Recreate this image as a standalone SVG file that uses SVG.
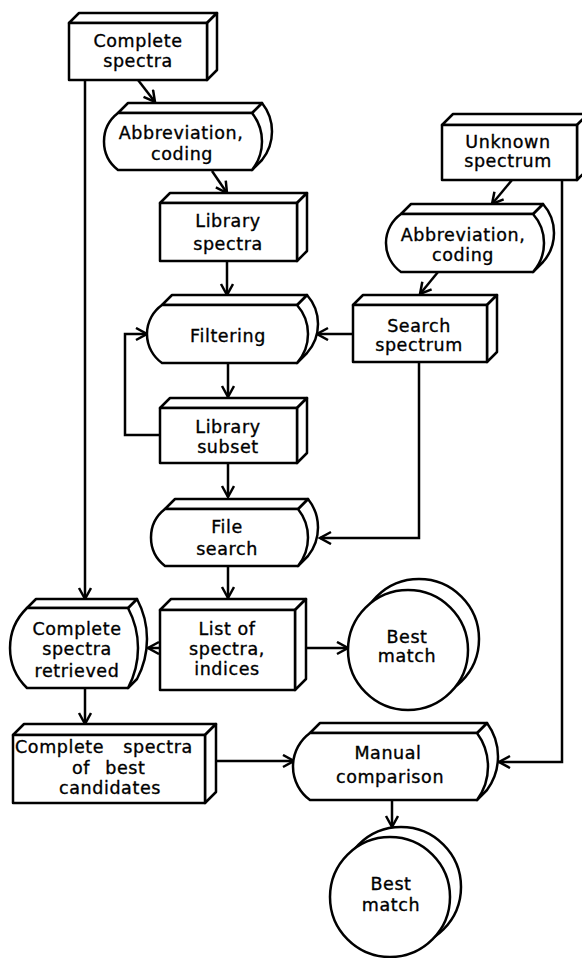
<svg xmlns="http://www.w3.org/2000/svg" width="582" height="958" viewBox="0 0 582 958">
<style>
.s{fill:#fff;stroke:#000;stroke-width:2.5;stroke-linejoin:round}
.c{fill:none;stroke:#000;stroke-width:2.5;marker-end:url(#ah)}
text{font-family:"DejaVu Sans","Liberation Sans",sans-serif;font-size:17.5px;letter-spacing:0.6px;fill:#000;stroke:#000;stroke-width:0.35px;text-anchor:middle}
</style>
<defs>
<marker id="ah" markerWidth="16" markerHeight="16" refX="12" refY="7" orient="auto" markerUnits="userSpaceOnUse">
<path d="M1,1 L12,7 L1,13" fill="none" stroke="#000" stroke-width="2.5"/>
</marker>
</defs>
<rect width="582" height="958" fill="#fff"/>

<g id="connectors">
<path class="c" d="M138,80 L155,102"/>
<path class="c" d="M212,171 L227,193"/>
<path class="c" d="M227,261 V295"/>
<path class="c" d="M228,363 V397"/>
<path class="c" d="M160,435 H125 V334 H147"/>
<path class="c" d="M353,334 H317"/>
<path class="c" d="M228,463 V497"/>
<path class="c" d="M419,362 V538 H320"/>
<path class="c" d="M228,566 V598"/>
<path class="c" d="M85,80 V599"/>
<path class="c" d="M160,648 H148"/>
<path class="c" d="M306,648 H348"/>
<path class="c" d="M85,688 V724"/>
<path class="c" d="M216,761 H294"/>
<path class="c" d="M512,180 L492,204"/>
<path class="c" d="M438,272 L420,294"/>
<path class="c" d="M562,180 V762 H499"/>
<path class="c" d="M392,800 V827"/>
</g>

<g id="complete-spectra">
<path class="s" d="M69,23 L79,13 H217 L207,23 Z"/>
<path class="s" d="M207,23 L217,13 V70 L207,80 Z"/>
<rect class="s" x="69" y="23" width="138" height="57"/>
<text x="138" y="47">Complete</text>
<text x="138" y="67">spectra</text>
</g>

<g id="abbrev-left">
<path class="s" d="M252,113 L262,103 A45.6,45.6 0 0 1 262,160 L252,170 Z"/>
<path class="s" d="M118,113 L128,103 H262 L252,113 Z"/>
<path class="s" d="M118,113 H252 A45.6,45.6 0 0 1 252,170 H118 A36,36 0 0 1 118,113 Z"/>
<text x="181" y="139">Abbreviation,</text>
<text x="182" y="160">coding</text>
</g>

<g id="library-spectra">
<path class="s" d="M160,203 L170,193 H307 L297,203 Z"/>
<path class="s" d="M297,203 L307,193 V251 L297,261 Z"/>
<rect class="s" x="160" y="203" width="137" height="58"/>
<text x="228" y="227">Library</text>
<text x="228" y="250">spectra</text>
</g>

<g id="filtering">
<path class="s" d="M297,305 L307,295 A43.7,43.7 0 0 1 307,353 L297,363 Z"/>
<path class="s" d="M162,305 L172,295 H307 L297,305 Z"/>
<path class="s" d="M162,305 H297 A43.7,43.7 0 0 1 297,363 H162 A35.5,35.5 0 0 1 162,305 Z"/>
<text x="228" y="342">Filtering</text>
</g>

<g id="library-subset">
<path class="s" d="M160,408 L170,398 H307 L297,408 Z"/>
<path class="s" d="M297,408 L307,398 V453 L297,463 Z"/>
<rect class="s" x="160" y="408" width="137" height="55"/>
<text x="228" y="433">Library</text>
<text x="228" y="453">subset</text>
</g>

<g id="file-search">
<path class="s" d="M298,509 L308,499 A45.6,45.6 0 0 1 308,556 L298,566 Z"/>
<path class="s" d="M165,509 L175,499 H308 L298,509 Z"/>
<path class="s" d="M165,509 H298 A45.6,45.6 0 0 1 298,566 H165 A36,36 0 0 1 165,509 Z"/>
<text x="227" y="533">File</text>
<text x="227" y="555">search</text>
</g>

<g id="unknown-spectrum">
<path class="s" d="M442,125 L453,114 H588 L577,125 Z"/>
<path class="s" d="M577,125 L588,114 V169 L577,180 Z"/>
<rect class="s" x="442" y="125" width="135" height="55"/>
<text x="508" y="148">Unknown</text>
<text x="508" y="167">spectrum</text>
</g>

<g id="abbrev-right">
<path class="s" d="M533,214 L543,204 A43.7,43.7 0 0 1 543,262 L533,272 Z"/>
<path class="s" d="M401,214 L411,204 H543 L533,214 Z"/>
<path class="s" d="M401,214 H533 A43.7,43.7 0 0 1 533,272 H401 A35.5,35.5 0 0 1 401,214 Z"/>
<text x="463" y="241">Abbreviation,</text>
<text x="463" y="261">coding</text>
</g>

<g id="search-spectrum">
<path class="s" d="M353,305 L363,295 H497 L487,305 Z"/>
<path class="s" d="M487,305 L497,295 V352 L487,362 Z"/>
<rect class="s" x="353" y="305" width="134" height="57"/>
<text x="419" y="332">Search</text>
<text x="419" y="351">spectrum</text>
</g>

<g id="complete-spectra-retrieved">
<path class="s" d="M128,608 L137,599 A85,85 0 0 1 137,679 L128,688 Z"/>
<path class="s" d="M27,608 L36,599 H137 L128,608 Z"/>
<path class="s" d="M27,608 H128 A85,85 0 0 1 128,688 H27 A55.6,55.6 0 0 1 27,608 Z"/>
<text x="77" y="635">Complete</text>
<text x="77" y="655">spectra</text>
<text x="77" y="677">retrieved</text>
</g>

<g id="list-of-spectra">
<path class="s" d="M160,610 L171,599 H306 L295,610 Z"/>
<path class="s" d="M295,610 L306,599 V679 L295,690 Z"/>
<rect class="s" x="160" y="610" width="135" height="80"/>
<text x="227" y="635">List of</text>
<text x="227" y="655">spectra,</text>
<text x="227" y="675">indices</text>
</g>

<g id="best-match-1">
<circle class="s" cx="419" cy="639" r="60"/>
<circle class="s" cx="408" cy="650" r="60"/>
<text x="407" y="643">Best</text>
<text x="407" y="662">match</text>
</g>

<g id="complete-spectra-best">
<path class="s" d="M13,735 L24,724 H216 L205,735 Z"/>
<path class="s" d="M205,735 L216,724 V792 L205,803 Z"/>
<rect class="s" x="13" y="735" width="192" height="68"/>
<text x="15" y="753" style="text-anchor:start">Complete <tspan dx="13">spectra</tspan></text>
<text x="72" y="774" style="text-anchor:start">of <tspan dx="9">best</tspan></text>
<text x="110" y="794">candidates</text>
</g>

<g id="manual-comparison">
<path class="s" d="M477,733 L487,723 A56.5,56.5 0 0 1 487,790 L477,800 Z"/>
<path class="s" d="M310,733 L320,723 H487 L477,733 Z"/>
<path class="s" d="M310,733 H477 A56.5,56.5 0 0 1 477,800 H310 A41.5,41.5 0 0 1 310,733 Z"/>
<text x="388" y="759">Manual</text>
<text x="390" y="783">comparison</text>
</g>

<g id="best-match-2">
<circle class="s" cx="401" cy="887" r="60"/>
<circle class="s" cx="390" cy="897" r="60"/>
<text x="391" y="890">Best</text>
<text x="391" y="911">match</text>
</g>
</svg>
